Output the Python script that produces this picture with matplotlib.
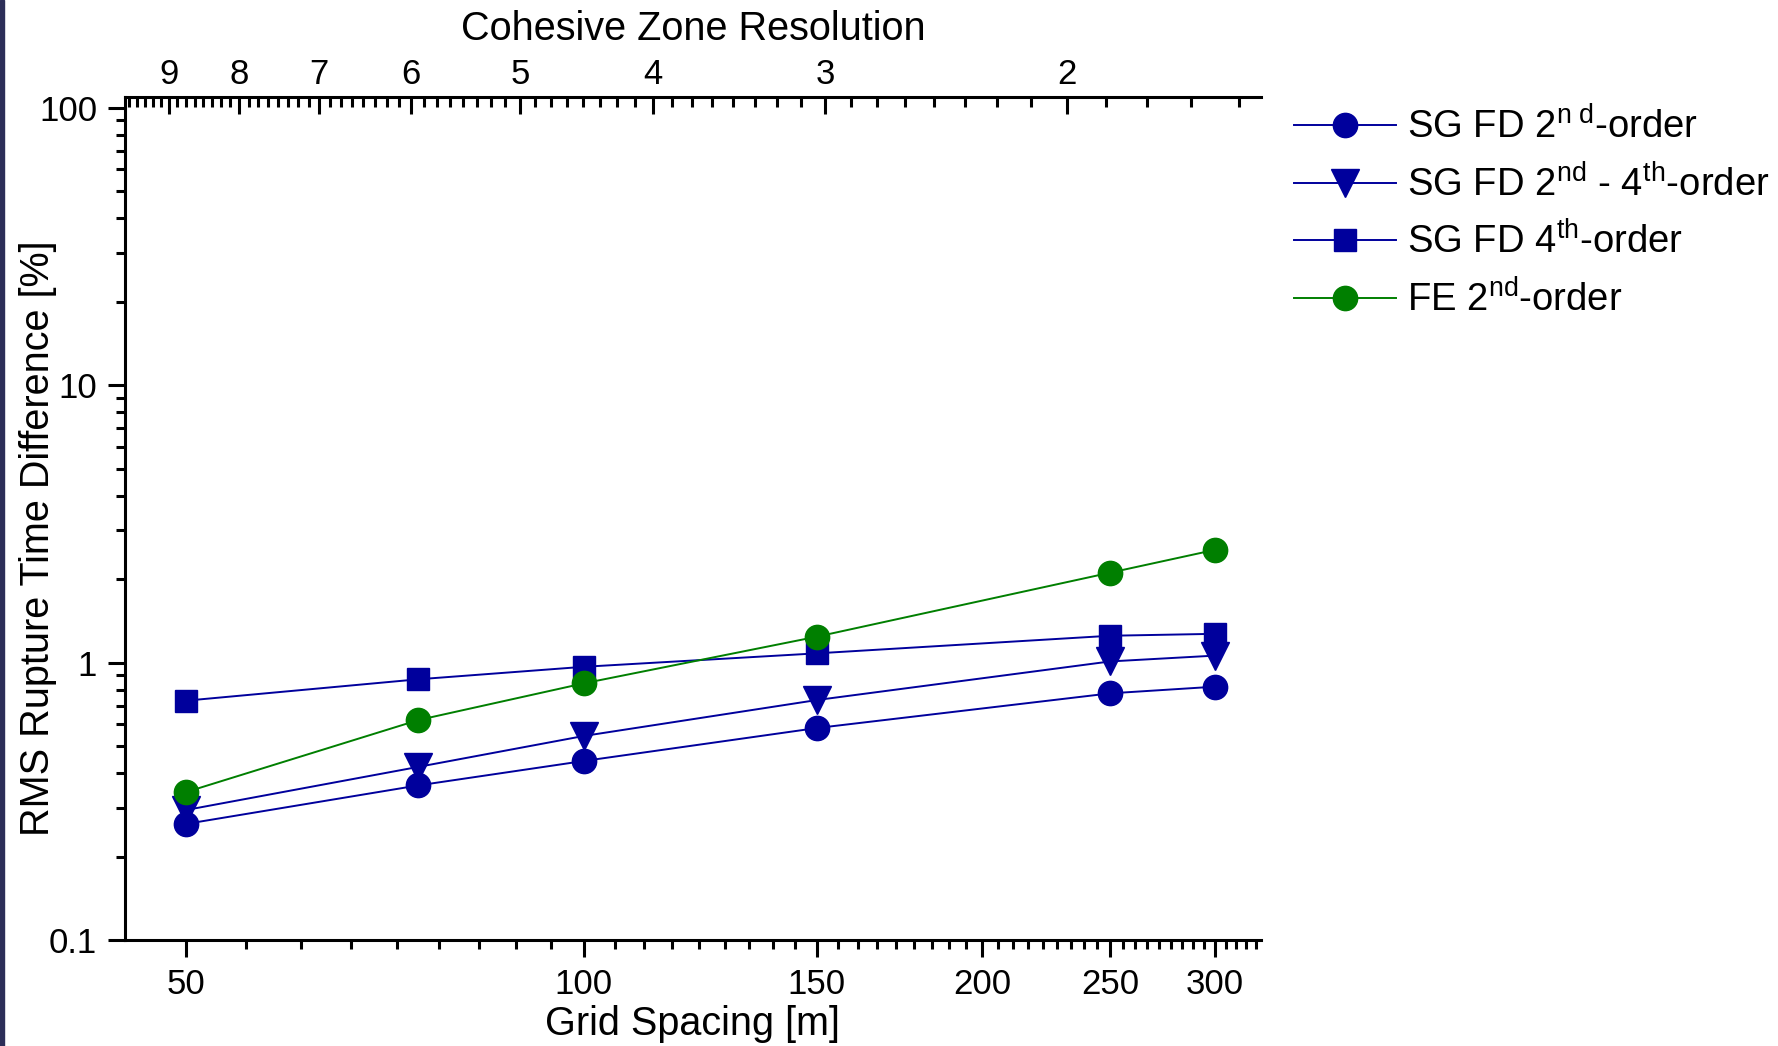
import numpy as np
import matplotlib
matplotlib.use("Agg")
import matplotlib.pyplot as plt
from matplotlib.ticker import FixedLocator, FixedFormatter, NullFormatter
from matplotlib.patches import Rectangle

plt.rcParams['font.family'] = ['Liberation Sans', 'DejaVu Sans']
plt.rcParams['mathtext.fontset'] = 'custom'
plt.rcParams['mathtext.rm'] = 'Liberation Sans'
plt.rcParams['mathtext.it'] = 'Liberation Sans'

# grid spacing [m]
grid_spacing = [50, 75, 100, 150, 250, 300]

# RMS rupture time difference [%]
sg_fd_2nd = [0.262, 0.361, 0.442, 0.581, 0.775, 0.819]
sg_fd_2nd_4th = [0.294, 0.421, 0.544, 0.733, 1.01, 1.06]
sg_fd_4th = [0.729, 0.871, 0.966, 1.08, 1.25, 1.27]
fe_2nd = [0.341, 0.621, 0.842, 1.24, 2.11, 2.55]

x_ticks = [50, 100, 150, 200, 250, 300]
y_ticks = [0.1, 1, 10, 100]
y_labels = ['0.1', '1', '10', '100']
top_ticks = [9, 8, 7, 6, 5, 4, 3, 2]

blue = '#00009c'
green = '#007f00'

fig = plt.figure(figsize=(17.78, 10.46), dpi=100)
ax = fig.add_axes([0.0703, 0.1013, 0.6389, 0.8062])

ax.plot(grid_spacing, sg_fd_2nd, color=blue, lw=1.4, marker='o', ms=17.5,
        mec=blue, label='SG FD 2$^{\\mathrm{n\\ d}}$-order', zorder=3)
ax.plot(grid_spacing, sg_fd_2nd_4th, color=blue, lw=1.4, marker='v', ms=20,
        mec=blue, label='SG FD 2$^{\\mathrm{nd}}$ - 4$^{\\mathrm{th}}$-order', zorder=2)
ax.plot(grid_spacing, sg_fd_4th, color=blue, lw=1.4, marker='s', ms=15.5,
        mec=blue, label='SG FD 4$^{\\mathrm{th}}$-order', zorder=2)
ax.plot(grid_spacing, fe_2nd, color=green, lw=1.4, marker='o', ms=17.5,
        mec=green, label='FE 2$^{\\mathrm{nd}}$-order', zorder=4)

ax.set_xscale('log')
ax.set_yscale('log')
ax.set_xlim(45, 325)
ax.set_ylim(0.1, 109.6)

# bottom axis: linear-step minor ticks like the original
step = 50 / 9
minor_x = [50 + k * step for k in range(0, 50) if k % 9 != 0 and 50 + k * step < 325]
ax.xaxis.set_major_locator(FixedLocator(x_ticks))
ax.xaxis.set_major_formatter(FixedFormatter([str(v) for v in x_ticks]))
ax.xaxis.set_minor_locator(FixedLocator(minor_x))
ax.xaxis.set_minor_formatter(NullFormatter())

minor_y = [m * 10.0 ** e for e in range(-1, 2) for m in range(2, 10)]
ax.yaxis.set_major_locator(FixedLocator(y_ticks))
ax.yaxis.set_major_formatter(FixedFormatter(y_labels))
ax.yaxis.set_minor_locator(FixedLocator(minor_y))
ax.yaxis.set_minor_formatter(NullFormatter())

ax.spines['top'].set_visible(False)
ax.spines['right'].set_visible(False)
for s in ['left', 'bottom']:
    ax.spines[s].set_linewidth(2.2)
ax.tick_params(which='major', direction='out', length=12, width=2.2,
               labelsize=25, pad=8)
ax.tick_params(which='minor', direction='out', length=6.5, width=2.2)
ax.tick_params(axis='x', which='both', top=False)
ax.tick_params(axis='y', which='both', right=False)

ax.set_xlabel('Grid Spacing [m]', fontsize=28.5, labelpad=3)
ax.set_ylabel('RMS Rupture Time Difference [%]', fontsize=28.5)
ax.yaxis.set_label_coords(-0.06, 0.476)

# top axis: cohesive zone resolution
ax2 = ax.twiny()
ax2.set_xscale('log')
ax2.set_xlim(9.69, 1.446)
minor_top = [v for v in np.arange(1.5, 9.7, 0.125) if abs(v - round(v)) > 1e-6]
ax2.xaxis.set_major_locator(FixedLocator(top_ticks))
ax2.xaxis.set_major_formatter(FixedFormatter([str(v) for v in top_ticks]))
ax2.xaxis.set_minor_locator(FixedLocator(minor_top))
ax2.xaxis.set_minor_formatter(NullFormatter())
for s in ['left', 'right', 'bottom']:
    ax2.spines[s].set_visible(False)
ax2.spines['top'].set_linewidth(2.2)
ax2.tick_params(which='major', direction='in', length=12, width=2.2,
                labelsize=25, pad=4)
ax2.tick_params(which='minor', direction='in', length=7, width=2.2)
ax2.set_xlabel('Cohesive Zone Resolution', fontsize=28.5, labelpad=13)

fig.legend(*ax.get_legend_handles_labels(), loc='upper left',
           bbox_to_anchor=(0.728, 0.897), frameon=False, fontsize=27.5,
           handlelength=2.65, handletextpad=0.3, labelspacing=0.48,
           borderpad=0, borderaxespad=0)

# dark strip on the left edge of the original slide capture
fig.patches.append(Rectangle((0, 0), 4 / 1778, 1, transform=fig.transFigure,
                             color='#2c2e58', zorder=0))

fig.savefig('out.png', dpi=100)
